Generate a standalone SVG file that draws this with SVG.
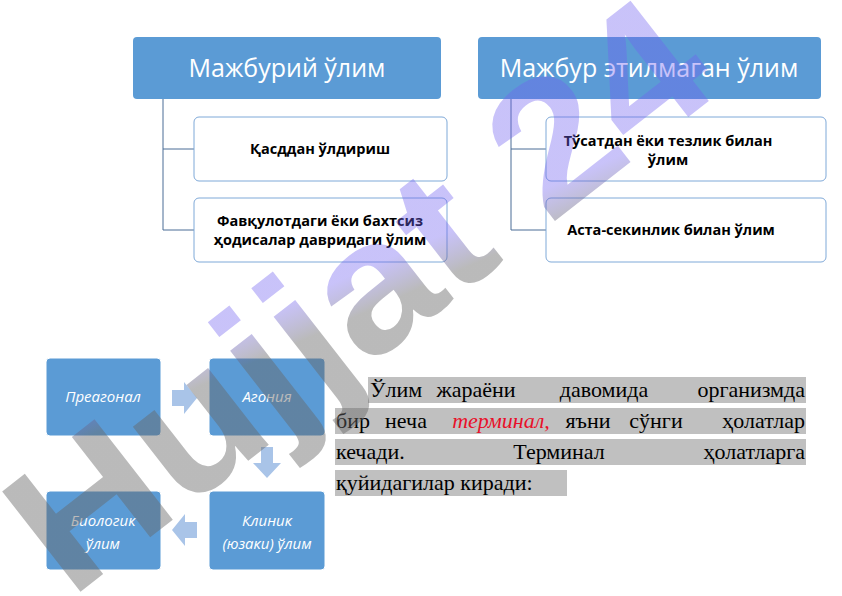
<svg xmlns="http://www.w3.org/2000/svg" width="842" height="596" viewBox="0 0 842 596">
<defs>
<style>
.hdr{fill:#5b9bd5;}
.hdrt{font-family:"Open Sans","Noto Sans",sans-serif;font-size:25px;fill:#fff;text-anchor:middle;}
.ch{fill:#fff;stroke:#7fa9d8;stroke-width:1;}
.cht{font-family:"Open Sans","Noto Sans",sans-serif;font-size:14.5px;font-weight:bold;fill:#000;text-anchor:middle;}
.con{fill:none;stroke:#4a6d96;stroke-width:1;}
.bx{fill:#5b9bd5;stroke:#fff;stroke-width:1;}
.bxt{font-family:"Open Sans","Noto Sans",sans-serif;font-size:15px;font-style:italic;fill:#fff;text-anchor:middle;}
.ar{fill:#a9c4e8;}
.p{font-family:"Liberation Serif",serif;font-size:22px;fill:#000;}
.red{fill:#e8102a;font-style:italic;}
.m{text-anchor:middle;}
.e{text-anchor:end;}
.hl{fill:#c0c0c0;}
</style>
<linearGradient id="wm" x1="0" y1="1" x2="1" y2="0">
<stop offset="0.45" stop-color="#666" stop-opacity="0.45"/>
<stop offset="0.55" stop-color="#7060f0" stop-opacity="0.38"/>
</linearGradient>
</defs>
<rect width="842" height="596" fill="#fff"/>
<g id="connectors">
<path class="con" d="M163 99V230H198M163 149H194"/>
<path class="con" d="M511 99V230H546M511 149H546"/>
<path class="ar" d="M172 390h12v-8l13 16-13 16v-8h-12z"/>
<path class="ar" d="M261 447h12v16h8l-14 15-14-15h8z"/>
<path class="ar" d="M197 522h-12v-8l-13 16 13 16v-8h12z"/>
</g>
<g id="n1"><rect class="hdr" x="133" y="37" width="308" height="62" rx="4"/><text class="hdrt" x="287" y="77">Мажбурий ўлим</text></g>
<g id="n2"><rect class="ch" x="194" y="117" width="253" height="64" rx="5"/><text class="cht" x="320" y="154">Қасддан ўлдириш</text></g>
<g id="n3"><rect class="ch" x="194" y="198" width="253" height="64" rx="5"/><text class="cht" x="320" y="226">Фавқулотдаги ёки бахтсиз</text><text class="cht" x="320" y="245">ҳодисалар давридаги ўлим</text></g>
<g id="n4"><rect class="hdr" x="478" y="37" width="343" height="62" rx="4"/><text class="hdrt" x="649" y="77">Мажбур этилмаган ўлим</text></g>
<g id="n5"><rect class="ch" x="546" y="117" width="280" height="64" rx="5"/><text class="cht" x="668" y="146">Тўсатдан ёки тезлик билан</text><text class="cht" x="668" y="165">ўлим</text></g>
<g id="n6"><rect class="ch" x="546" y="198" width="280" height="64" rx="5"/><text class="cht" x="671" y="235">Аста-секинлик билан ўлим</text></g>
<g id="b1"><rect class="bx" x="46" y="358" width="115" height="78" rx="4"/><text class="bxt" x="103" y="402">Преагонал</text></g>
<g id="b2"><rect class="bx" x="209" y="358" width="116" height="78" rx="4"/><text class="bxt" x="267" y="402">Агония</text></g>
<g id="b3"><rect class="bx" x="46" y="491" width="115" height="79" rx="4"/><text class="bxt" x="103" y="526">Биологик</text><text class="bxt" x="103" y="549">ўлим</text></g>
<g id="b4"><rect class="bx" x="209" y="491" width="116" height="79" rx="4"/><text class="bxt" x="267" y="526">Клиник</text><text class="bxt" x="267" y="549">(юзаки) ўлим</text></g>
<g id="para">
<rect class="hl" x="368" y="377" width="438" height="26"/>
<rect class="hl" x="335" y="408" width="471" height="26"/>
<rect class="hl" x="335" y="439" width="471" height="26"/>
<rect class="hl" x="335" y="470" width="232" height="26"/>
<text class="p" x="370" y="397">Ўлим</text>
<text class="p m" x="476" y="397">жараёни</text>
<text class="p m" x="604" y="397">давомида</text>
<text class="p e" x="805" y="397">организмда</text>
<text class="p" x="336" y="428">бир</text>
<text class="p m" x="406" y="428">неча</text>
<text class="p m red" x="501" y="428">терминал,</text>
<text class="p m" x="588" y="428">яъни</text>
<text class="p m" x="656" y="428">сўнги</text>
<text class="p e" x="805" y="428">ҳолатлар</text>
<text class="p" x="336" y="459">кечади.</text>
<text class="p m" x="559" y="459">Терминал</text>
<text class="p e" x="805" y="459">ҳолатларга</text>
<text class="p" x="336" y="490">қуйидагилар киради:</text>
</g>
<text x="0" y="0" transform="translate(70,600) rotate(-38)" font-family="Liberation Sans,sans-serif" font-weight="bold" font-size="185" fill="url(#wm)" textLength="830" lengthAdjust="spacingAndGlyphs">Hujjat 24</text>
</svg>
